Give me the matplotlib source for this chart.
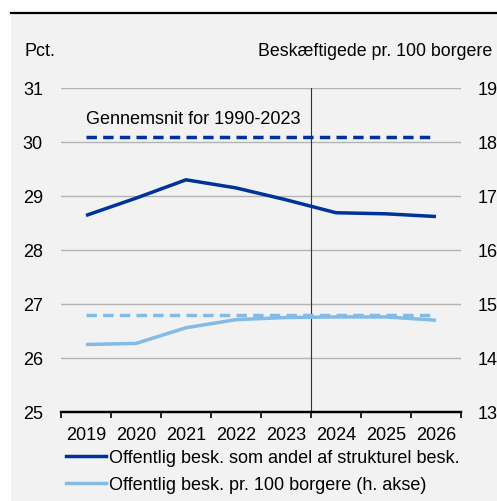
import matplotlib
matplotlib.use("Agg")
from matplotlib import pyplot as plt
from matplotlib.patches import Rectangle
from matplotlib.lines import Line2D
import numpy as np

plt.rcParams['font.family'] = ['Liberation Sans', 'DejaVu Sans']

years = ["2019", "2020", "2021", "2022", "2023", "2024", "2025", "2026"]
andel = [28.64, 28.96, 29.30, 29.15, 28.93, 28.69, 28.67, 28.62]
pr100 = [14.25, 14.27, 14.56, 14.71, 14.75, 14.76, 14.76, 14.70]
avg_andel = 30.10
avg_pr100 = 14.80

dark = "#003399"
light = "#82bbe6"
bg = "#f2f2f2"
fs = 13

W, H = 497, 502
fig = plt.figure(figsize=(W / 100, H / 100), dpi=100)
fig.patch.set_facecolor("white")
fig.add_artist(Rectangle((11 / W, 0), 1 - 11 / W, (H - 15) / H,
                         transform=fig.transFigure, facecolor=bg,
                         edgecolor="none", zorder=0))
fig.add_artist(Line2D([11 / W, 1], [(H - 14) / H] * 2, transform=fig.transFigure,
                      color="black", lw=1.6))

ax = fig.add_axes([61 / W, (H - 413) / H, 400 / W, 324 / H])
ax.set_facecolor("none")
x = np.arange(len(years))

ax.set_xlim(-0.5, len(years) - 0.5)
ax.set_ylim(25, 31)
ax.set_yticks(range(25, 32))
ax.grid(axis="y", color="#b4b4b4", lw=1)
ax.set_axisbelow(True)

ax.plot(x, andel, color=dark, lw=2.5, solid_capstyle="butt", zorder=3)
ax.plot([x[0], x[-1]], [avg_andel] * 2, color=dark, lw=2.5,
        dashes=(3.0, 1.8), zorder=3)
ax.text(x[0], avg_andel + 0.17, "Gennemsnit for 1990-2023", fontsize=fs,
        va="bottom", ha="left")
ax.axvline(4.5, color="#333333", lw=0.8, zorder=2)

ax2 = ax.twinx()
ax2.set_ylim(13, 19)
ax2.set_yticks(range(13, 20))
ax2.plot(x, pr100, color=light, lw=2.5, solid_capstyle="butt", zorder=3)
ax2.plot([x[0], x[-1]], [avg_pr100] * 2, color=light, lw=2.5,
         dashes=(3.0, 1.8), zorder=3)

for a in (ax, ax2):
    for s in ("top", "left", "right"):
        a.spines[s].set_visible(False)
    a.spines["bottom"].set_linewidth(1.6)

ax.set_xticks(np.arange(-0.5, len(years)), minor=False)
ax.set_xticklabels([])
ax.set_xticks(x, minor=True)
ax.set_xticklabels(years, minor=True, fontsize=fs)
ax.tick_params(axis="x", which="major", length=4, width=1.2, direction="out")
ax.tick_params(axis="x", which="minor", length=0, pad=10)
ax.tick_params(axis="y", length=0, labelsize=fs, pad=13)
ax2.tick_params(axis="y", length=0, labelsize=fs, pad=12)

fig.text(24 / W, (H - 52) / H, "Pct.", fontsize=fs, va="center", ha="left")
fig.text(492 / W, (H - 52) / H, "Beskæftigede pr. 100 borgere", fontsize=12.8,
         va="center", ha="right")

handles = [Line2D([], [], color=dark, lw=2.5),
           Line2D([], [], color=light, lw=2.5)]
labels = ["Offentlig besk. som andel af strukturel besk.",
          "Offentlig besk. pr. 100 borgere (h. akse)"]
fig.legend(handles, labels, loc="upper left",
           bbox_to_anchor=(66 / W, (H - 450) / H), frameon=False, fontsize=fs,
           handlelength=2.2, handletextpad=0.2, labelspacing=0.55,
           borderaxespad=0, borderpad=0)

fig.savefig("out.png", dpi=100)
